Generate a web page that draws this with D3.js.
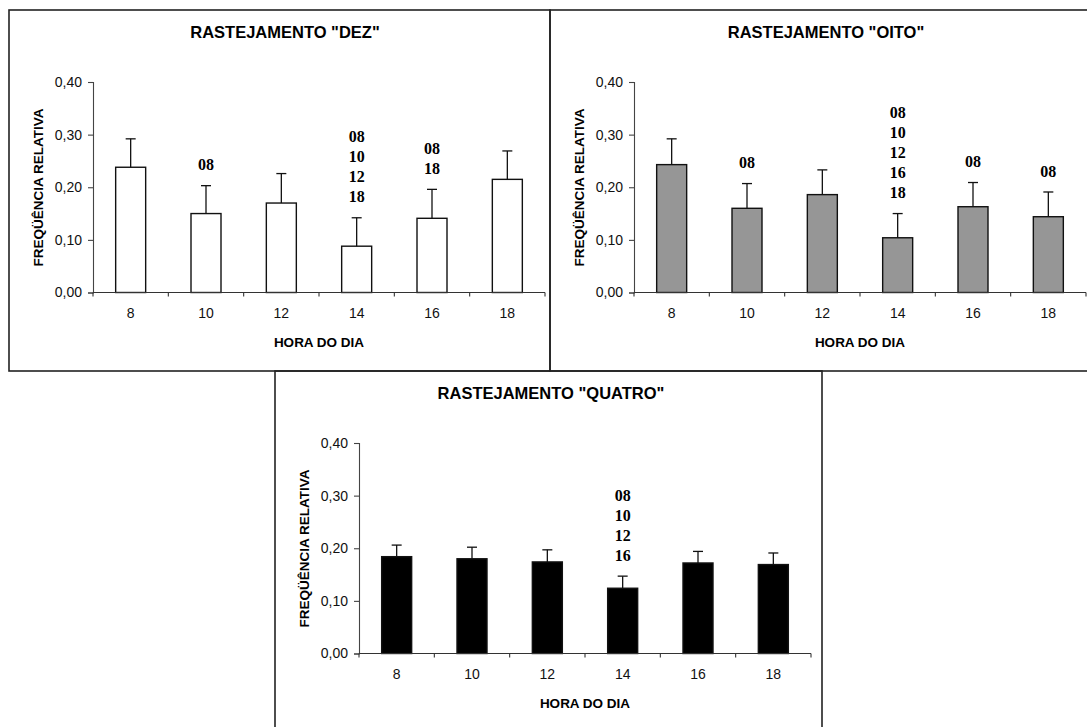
<!DOCTYPE html>
<html>
<head>
<meta charset="utf-8">
<script src="https://cdn.jsdelivr.net/npm/d3@7"></script>
<style>
  html, body { margin: 0; padding: 0; background: #fff; }
  svg { display: block; }
</style>
</head>
<body>
<svg id="chart" width="1087" height="727"></svg>
<script>
// ---- data ----
const hours = ["8", "10", "12", "14", "16", "18"];
const yTicks = [0, 0.1, 0.2, 0.3, 0.4];

const dezValues  = [0.238, 0.150, 0.170, 0.088, 0.141, 0.215];
const dezErrors  = [0.054, 0.053, 0.056, 0.054, 0.055, 0.054];
const dezLabels  = [[], ["08"], [], ["08", "10", "12", "18"], ["08", "18"], []];

const oitoValues = [0.243, 0.160, 0.186, 0.104, 0.163, 0.144];
const oitoErrors = [0.049, 0.047, 0.047, 0.046, 0.046, 0.047];
const oitoLabels = [[], ["08"], [], ["08", "10", "12", "16", "18"], ["08"], ["08"]];

const quatroValues = [0.184, 0.180, 0.174, 0.124, 0.172, 0.169];
const quatroErrors = [0.022, 0.022, 0.023, 0.023, 0.022, 0.022];
const quatroLabels = [[], [], [], ["08", "10", "12", "16"], [], []];

const titles = ['RASTEJAMENTO "DEZ"', 'RASTEJAMENTO "OITO"', 'RASTEJAMENTO "QUATRO"'];
const yTitle = "FREQÜÊNCIA RELATIVA";
const xTitle = "HORA DO DIA";

// ---- layout ----
const svg = d3.select("#chart");
const panels = [
  { x: 9,   y: 10,  w: 541, h: 361, title: titles[0], values: dezValues,    errors: dezErrors,    labels: dezLabels,    fill: "#ffffff" },
  { x: 550, y: 10,  w: 560, h: 361, title: titles[1], values: oitoValues,   errors: oitoErrors,   labels: oitoLabels,   fill: "#969696" },
  { x: 275, y: 371, w: 547, h: 380, title: titles[2], values: quatroValues, errors: quatroErrors, labels: quatroLabels, fill: "#000000" }
];

const sans = "'Liberation Sans', Arial, sans-serif";
const serif = "'Liberation Serif', 'Times New Roman', serif";

panels.forEach(p => {
  const g = svg.append("g").attr("transform", `translate(${p.x},${p.y})`);

  // border
  g.append("rect")
    .attr("x", 0).attr("y", 0).attr("width", p.w).attr("height", p.h)
    .attr("fill", "none").attr("stroke", "#222").attr("stroke-width", 1.6);

  const left = 84, top = 72, plotW = 452, plotH = 210.5;
  const x = d3.scaleBand().domain(hours).range([left, left + plotW]).paddingInner(0).paddingOuter(0);
  const y = d3.scaleLinear().domain([0, 0.4]).range([top + plotH, top]);

  // title
  g.append("text")
    .attr("x", 276).attr("y", 22).attr("dy", "0.35em")
    .attr("text-anchor", "middle")
    .style("font-family", sans).style("font-weight", "bold").style("font-size", "16.5px")
    .text(p.title);

  // y axis
  const yAxis = d3.axisLeft(y).tickValues(yTicks).tickSize(5).tickPadding(6)
    .tickFormat(d => d3.format(".2f")(d).replace(".", ","));
  const ya = g.append("g").attr("transform", `translate(${left},0)`).call(yAxis);
  ya.select(".domain").attr("stroke", "#444").attr("stroke-width", 1.1);
  ya.selectAll(".tick line").attr("stroke", "#444").attr("stroke-width", 1.1);
  ya.selectAll(".tick text").style("font-family", sans).style("font-size", "14px").attr("fill", "#111");

  // bars
  g.selectAll("rect.bar").data(p.values).enter().append("rect")
    .attr("class", "bar")
    .attr("x", (d, i) => x(hours[i]) + x.bandwidth() / 2 - 15)
    .attr("width", 30)
    .attr("y", d => y(d))
    .attr("height", d => y(0) - y(d))
    .attr("fill", p.fill)
    .attr("stroke", "#111").attr("stroke-width", 1.4);

  // error bars (upper)
  p.values.forEach((v, i) => {
    const cx = x(hours[i]) + x.bandwidth() / 2;
    const hi = v + p.errors[i];
    g.append("line").attr("x1", cx).attr("x2", cx).attr("y1", y(v)).attr("y2", y(hi))
      .attr("stroke", "#111").attr("stroke-width", 1.3);
    g.append("line").attr("x1", cx - 5).attr("x2", cx + 5).attr("y1", y(hi)).attr("y2", y(hi))
      .attr("stroke", "#111").attr("stroke-width", 1.3);

    // significance labels
    const lines = p.labels[i];
    const n = lines.length;
    lines.forEach((t, k) => {
      g.append("text")
        .attr("x", cx).attr("y", y(hi) - 21 - (n - 1 - k) * 20).attr("dy", "0.35em")
        .attr("text-anchor", "middle")
        .style("font-family", serif).style("font-weight", "bold").style("font-size", "16px")
        .text(t);
    });
  });

  // x axis
  const xa = g.append("g").attr("transform", `translate(0,${y(0)})`);
  xa.append("line").attr("x1", left).attr("x2", left + plotW).attr("y1", 0).attr("y2", 0)
    .attr("stroke", "#333").attr("stroke-width", 1.2);
  const bounds = hours.map(h => x(h)).concat([left + plotW]);
  xa.selectAll("line.tk").data(bounds).enter().append("line")
    .attr("class", "tk")
    .attr("x1", d => d).attr("x2", d => d).attr("y1", 0).attr("y2", 4)
    .attr("stroke", "#333").attr("stroke-width", 1.1);
  xa.selectAll("text").data(hours).enter().append("text")
    .attr("x", d => x(d) + x.bandwidth() / 2).attr("y", 21).attr("dy", "0.35em")
    .attr("text-anchor", "middle")
    .style("font-family", sans).style("font-size", "14px").attr("fill", "#111")
    .text(d => d);

  // axis titles
  g.append("text")
    .attr("x", left + plotW / 2).attr("y", 332.7).attr("dy", "0.35em")
    .attr("text-anchor", "middle")
    .style("font-family", sans).style("font-weight", "bold").style("font-size", "13.5px")
    .text(xTitle);

  g.append("text")
    .attr("transform", `translate(29.6,177.5) rotate(-90)`)
    .attr("dy", "0.35em")
    .attr("text-anchor", "middle")
    .style("font-family", sans).style("font-weight", "bold").style("font-size", "13.5px")
    .text(yTitle);
});
</script>
</body>
</html>
